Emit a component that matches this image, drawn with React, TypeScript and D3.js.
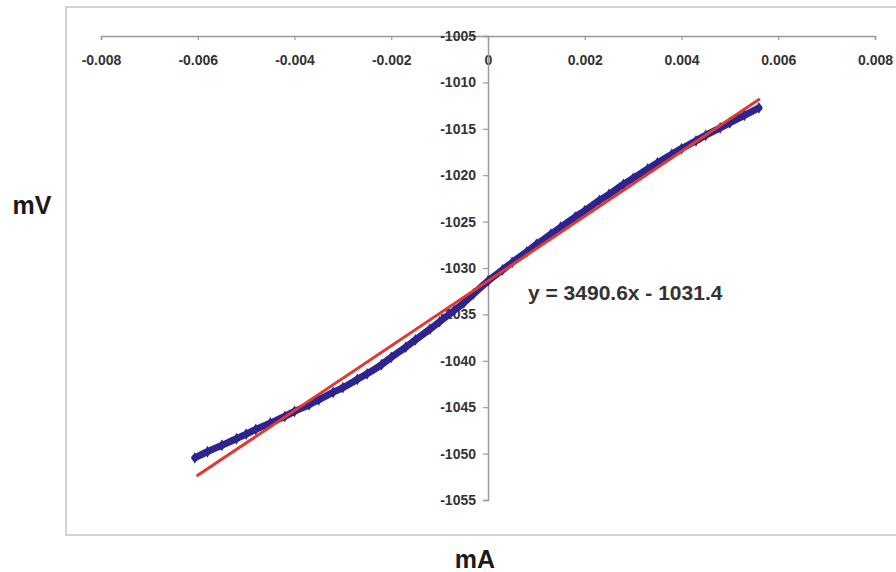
import React, { useEffect, useRef } from 'react';
import * as d3 from 'd3';

// x in mA, y in mV
const xTicks = [-0.008, -0.006, -0.004, -0.002, 0, 0.002, 0.004, 0.006, 0.008];
const yTicks = [-1005, -1010, -1015, -1020, -1025, -1030, -1035, -1040, -1045, -1050, -1055];

const measX = [
  -0.00606, -0.0058, -0.0055, -0.0052, -0.005, -0.0048, -0.0045, -0.0042, -0.004, -0.0037,
  -0.0035, -0.0032, -0.003, -0.0027, -0.0025, -0.0022, -0.002, -0.0017, -0.0015, -0.0012,
  -0.001, -0.0007, -0.0005, -0.0003, 0, 0.0003, 0.0005, 0.0008, 0.001, 0.0013,
  0.0015, 0.0018, 0.002, 0.0023, 0.0025, 0.0028, 0.003, 0.0033, 0.0035, 0.0038,
  0.004, 0.0043, 0.0045, 0.0048, 0.005, 0.0053, 0.0056,
];
const measY = [
  -1050.45, -1049.8, -1049.1, -1048.4, -1047.9, -1047.4, -1046.7, -1046.0, -1045.45, -1044.75,
  -1044.2, -1043.4, -1042.9, -1042.0, -1041.4, -1040.4, -1039.63, -1038.53, -1037.74, -1036.59,
  -1035.79, -1034.59, -1033.75, -1032.8, -1031.4, -1030.2, -1029.4, -1028.26, -1027.46, -1026.36,
  -1025.61, -1024.52, -1023.82, -1022.72, -1022.07, -1020.98, -1020.33, -1019.33, -1018.68, -1017.74,
  -1017.14, -1016.29, -1015.7, -1014.9, -1014.35, -1013.55, -1012.75,
];

const slope = 3490.6;
const intercept = -1031.4;
const fitRange = [-0.006, 0.0056];
const equation = 'y = 3490.6x - 1031.4';

const App = () => {
  const ref = useRef<SVGSVGElement>(null);

  useEffect(() => {
    const svg = d3.select(ref.current);
    svg.selectAll('*').remove();

    const font = '"Liberation Sans", Arial, sans-serif';
    const hyphen = (s: string) => s.replace('\u2212', '-');

    // outer frame
    svg.append('rect')
      .attr('x', 66).attr('y', 7)
      .attr('width', 840).attr('height', 528)
      .attr('fill', '#fff')
      .attr('stroke', '#c4c4c4')
      .attr('stroke-width', 1.5);

    const x = d3.scaleLinear().domain([-0.008, 0.008]).range([101, 875]);
    const y = d3.scaleLinear().domain([-1005, -1055]).range([36, 500]);

    // x axis sits at the top (y = -1005), y axis at x = 0
    const gx = svg.append('g')
      .attr('transform', `translate(0,${y(-1005)})`)
      .call(d3.axisBottom(x).tickValues(xTicks).tickSize(4).tickPadding(15)
        .tickFormat(d => (d === 0 ? '0' : hyphen(d3.format('.3f')(d as number)))));
    gx.select('.domain').attr('stroke', '#999').attr('stroke-width', 1.5);
    gx.selectAll('.tick line').attr('stroke', '#999').attr('stroke-width', 1.2);
    gx.selectAll('.tick text')
      .attr('fill', '#333').attr('font-family', font).attr('font-weight', 'bold')
      .attr('font-size', 14);

    const gy = svg.append('g')
      .attr('transform', `translate(${x(0)},0)`)
      .call(d3.axisLeft(y).tickValues(yTicks).tickSize(5).tickPadding(7)
        .tickFormat(d => hyphen(String(d))));
    gy.select('.domain').attr('stroke', '#999').attr('stroke-width', 1.5);
    gy.selectAll('.tick line').attr('stroke', '#999').attr('stroke-width', 1.2);
    gy.selectAll('.tick text')
      .attr('fill', '#333').attr('font-family', font).attr('font-weight', 'bold')
      .attr('font-size', 14);

    // measured points
    const pts = measX.map((v, i) => [v, measY[i]] as [number, number]);
    svg.append('path')
      .datum(pts)
      .attr('fill', 'none')
      .attr('stroke', '#2d2490')
      .attr('stroke-width', 7)
      .attr('stroke-linecap', 'round')
      .attr('stroke-linejoin', 'round')
      .attr('d', d3.line().x(d => x(d[0])).y(d => y(d[1])).curve(d3.curveMonotoneX));

    svg.append('g')
      .selectAll('path')
      .data(pts)
      .enter().append('path')
      .attr('transform', d => `translate(${x(d[0])},${y(d[1])})`)
      .attr('d', d3.symbol().type(d3.symbolDiamond).size(40))
      .attr('fill', '#2d2490');

    // linear fit
    svg.append('line')
      .attr('x1', x(fitRange[0])).attr('y1', y(slope * fitRange[0] + intercept))
      .attr('x2', x(fitRange[1])).attr('y2', y(slope * fitRange[1] + intercept))
      .attr('stroke', '#e0392f')
      .attr('stroke-width', 3)
      .attr('stroke-linecap', 'round');

    svg.append('text')
      .attr('x', 528).attr('y', 300)
      .attr('font-family', font).attr('font-weight', 'bold').attr('font-size', 21)
      .attr('fill', '#333')
      .text(equation);

    svg.append('text')
      .attr('x', 32).attr('y', 214)
      .attr('text-anchor', 'middle')
      .attr('font-family', font).attr('font-weight', 'bold').attr('font-size', 25)
      .attr('fill', '#1a1a1a')
      .text('mV');

    svg.append('text')
      .attr('x', 475).attr('y', 568)
      .attr('text-anchor', 'middle')
      .attr('font-family', font).attr('font-weight', 'bold').attr('font-size', 25)
      .attr('fill', '#1a1a1a')
      .text('mA');
  }, []);

  return (
    <svg
      ref={ref}
      width={896}
      height={572}
      style={{ position: 'absolute', left: 0, top: 0, background: '#fff' }}
    />
  );
};

export default App;
